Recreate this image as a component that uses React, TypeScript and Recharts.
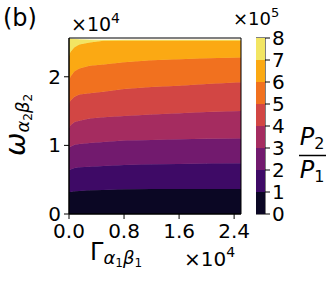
import { Area, AreaChart, Bar, BarChart, ReferenceArea, XAxis, YAxis } from 'recharts';

// Γ_{α1β1} sample positions (×10^4)
const gamma = [0, 0.02, 0.08, 0.15, 0.3, 0.5, 0.8, 1.2, 1.6, 2.0, 2.5];
// upper edge of the computed region, ω (×10^4)
const omegaTop = [2.55, 2.55, 2.545, 2.54, 2.535, 2.53, 2.53, 2.53, 2.53, 2.53, 2.53];
// ω position of each P2/P1 contour level (1..7 ×10^5); null = above the data
const contour1 = [0.32, 0.32, 0.33, 0.335, 0.345, 0.35, 0.36, 0.365, 0.365, 0.365, 0.365];
const contour2 = [0.64, 0.65, 0.67, 0.68, 0.69, 0.7, 0.715, 0.725, 0.73, 0.735, 0.74];
const contour3 = [0.96, 0.98, 1.01, 1.02, 1.035, 1.05, 1.07, 1.08, 1.09, 1.095, 1.1];
const contour4 = [1.25, 1.29, 1.34, 1.36, 1.39, 1.41, 1.43, 1.45, 1.47, 1.485, 1.5];
const contour5 = [1.61, 1.65, 1.71, 1.74, 1.76, 1.78, 1.82, 1.85, 1.87, 1.895, 1.92];
const contour6 = [1.93, 2.0, 2.08, 2.12, 2.16, 2.18, 2.21, 2.24, 2.255, 2.27, 2.28];
const contour7 = [2.3, 2.36, 2.43, 2.47, 2.5, 2.525, null, null, null, null, null];

const levels = [0, 1, 2, 3, 4, 5, 6, 7, 8]; // ×10^5
const bandColors = ['#0b0724', '#3e0a66', '#721a6e', '#a52c60', '#d24644', '#f1711f', '#fba913', '#f2e563'];

const xTicks = [0, 0.8, 1.6, 2.4];
const yTicks = [0, 1, 2];

const contours = [contour1, contour2, contour3, contour4, contour5, contour6, contour7];

const rows = gamma.map((g, i) => {
  const top = omegaTop[i];
  const edges = [0, ...contours.map((c) => c[i] ?? top), top].map((v) => Math.min(v, top));
  const row: any = { g };
  for (let k = 0; k < 8; k++) row['band' + k] = edges[k + 1] - edges[k];
  return row;
});

const cbRow: any = { k: 'cb' };
for (let k = 0; k < 8; k++) cbRow['s' + k] = levels[k + 1] - levels[k];

const font = 'DejaVu Sans';
const tickStyle = { fontSize: 20, fill: '#000', fontFamily: font };

export default function App() {
  return (
    <div style={{ position: 'absolute', left: 0, top: 0, width: 335, height: 284, background: '#fff' }}>
      <div style={{ position: 'absolute', left: 0, top: 0 }}>
        <AreaChart width={335} height={284} data={rows} margin={{ top: 38, right: 94, bottom: 0, left: 0 }}>
          <XAxis
            dataKey="g"
            type="number"
            domain={[0, 2.5]}
            ticks={xTicks}
            interval={0}
            tickFormatter={(v) => v.toFixed(1)}
            height={70}
            tickSize={5}
            tickMargin={5}
            tick={tickStyle}
            axisLine={{ stroke: '#000' }}
            tickLine={{ stroke: '#000' }}
            allowDataOverflow
          />
          <YAxis
            type="number"
            domain={[0, 2.565]}
            ticks={yTicks}
            interval={0}
            width={69}
            tickSize={5}
            tickMargin={3}
            tick={tickStyle}
            axisLine={{ stroke: '#000' }}
            tickLine={{ stroke: '#000' }}
            allowDataOverflow
          />
          {bandColors.map((c, k) => (
            <Area
              key={k}
              dataKey={'band' + k}
              stackId="p"
              type="linear"
              stroke={c}
              strokeWidth={0.8}
              fill={c}
              fillOpacity={1}
              dot={false}
              activeDot={false}
              isAnimationActive={false}
            />
          ))}
          <ReferenceArea x1={0} x2={2.5} y1={0} y2={2.565} fill="none" stroke="#000" strokeWidth={1} ifOverflow="visible" />
        </AreaChart>
      </div>
      <div style={{ position: 'absolute', left: 256, top: 22 }}>
        <BarChart width={62} height={208} data={[cbRow]} margin={{ top: 16, right: 0, bottom: 16, left: 0 }} barCategoryGap={0}>
          <XAxis dataKey="k" hide />
          <YAxis
            orientation="right"
            type="number"
            domain={[0, 8]}
            ticks={levels}
            interval={0}
            width={53}
            tickSize={5}
            tickMargin={2}
            tick={tickStyle}
            axisLine={false}
            tickLine={{ stroke: '#000' }}
          />
          {bandColors.map((c, k) => (
            <Bar key={k} dataKey={'s' + k} stackId="cb" fill={c} isAnimationActive={false} />
          ))}
          <ReferenceArea y1={0} y2={8} fill="none" stroke="#000" strokeWidth={1} ifOverflow="visible" />
        </BarChart>
      </div>
      <svg width={335} height={284} style={{ position: 'absolute', left: 0, top: 0, pointerEvents: 'none' }} fontFamily={font}>
        <text x={3} y={26} fontSize={24}>(b)</text>
        <text x={71} y={31} fontSize={19}>
          ×10<tspan fontSize={14} dy={-8}>4</tspan>
        </text>
        <text x={233} y={25} fontSize={18}>
          ×10<tspan fontSize={13} dy={-8}>5</tspan>
        </text>
        <text x={184} y={266} fontSize={20}>
          ×10<tspan fontSize={14} dy={-9}>4</tspan>
        </text>
        <text x={90} y={260} fontSize={24}>
          Γ
          <tspan fontSize={18} fontStyle="italic" dy={4}>α</tspan>
          <tspan fontSize={12} dy={3}>1</tspan>
          <tspan fontSize={18} fontStyle="italic" dy={-3}>β</tspan>
          <tspan fontSize={12} dy={3}>1</tspan>
        </text>
        <text transform="translate(25,125) rotate(-90)" textAnchor="middle" fontSize={28}>
          <tspan fontStyle="italic">ω</tspan>
          <tspan fontSize={18} fontStyle="italic" dy={4}>α</tspan>
          <tspan fontSize={12} dy={3}>2</tspan>
          <tspan fontSize={18} fontStyle="italic" dy={-3}>β</tspan>
          <tspan fontSize={12} dy={3}>2</tspan>
        </text>
        <text x={312} y={145} textAnchor="middle" fontSize={24}>
          <tspan fontStyle="italic">P</tspan>
          <tspan fontSize={16} dy={4}>2</tspan>
        </text>
        <line x1={299} x2={326} y1={155.5} y2={155.5} stroke="#000" strokeWidth={1.5} />
        <text x={312} y={178} textAnchor="middle" fontSize={24}>
          <tspan fontStyle="italic">P</tspan>
          <tspan fontSize={16} dy={4}>1</tspan>
        </text>
      </svg>
    </div>
  );
}
